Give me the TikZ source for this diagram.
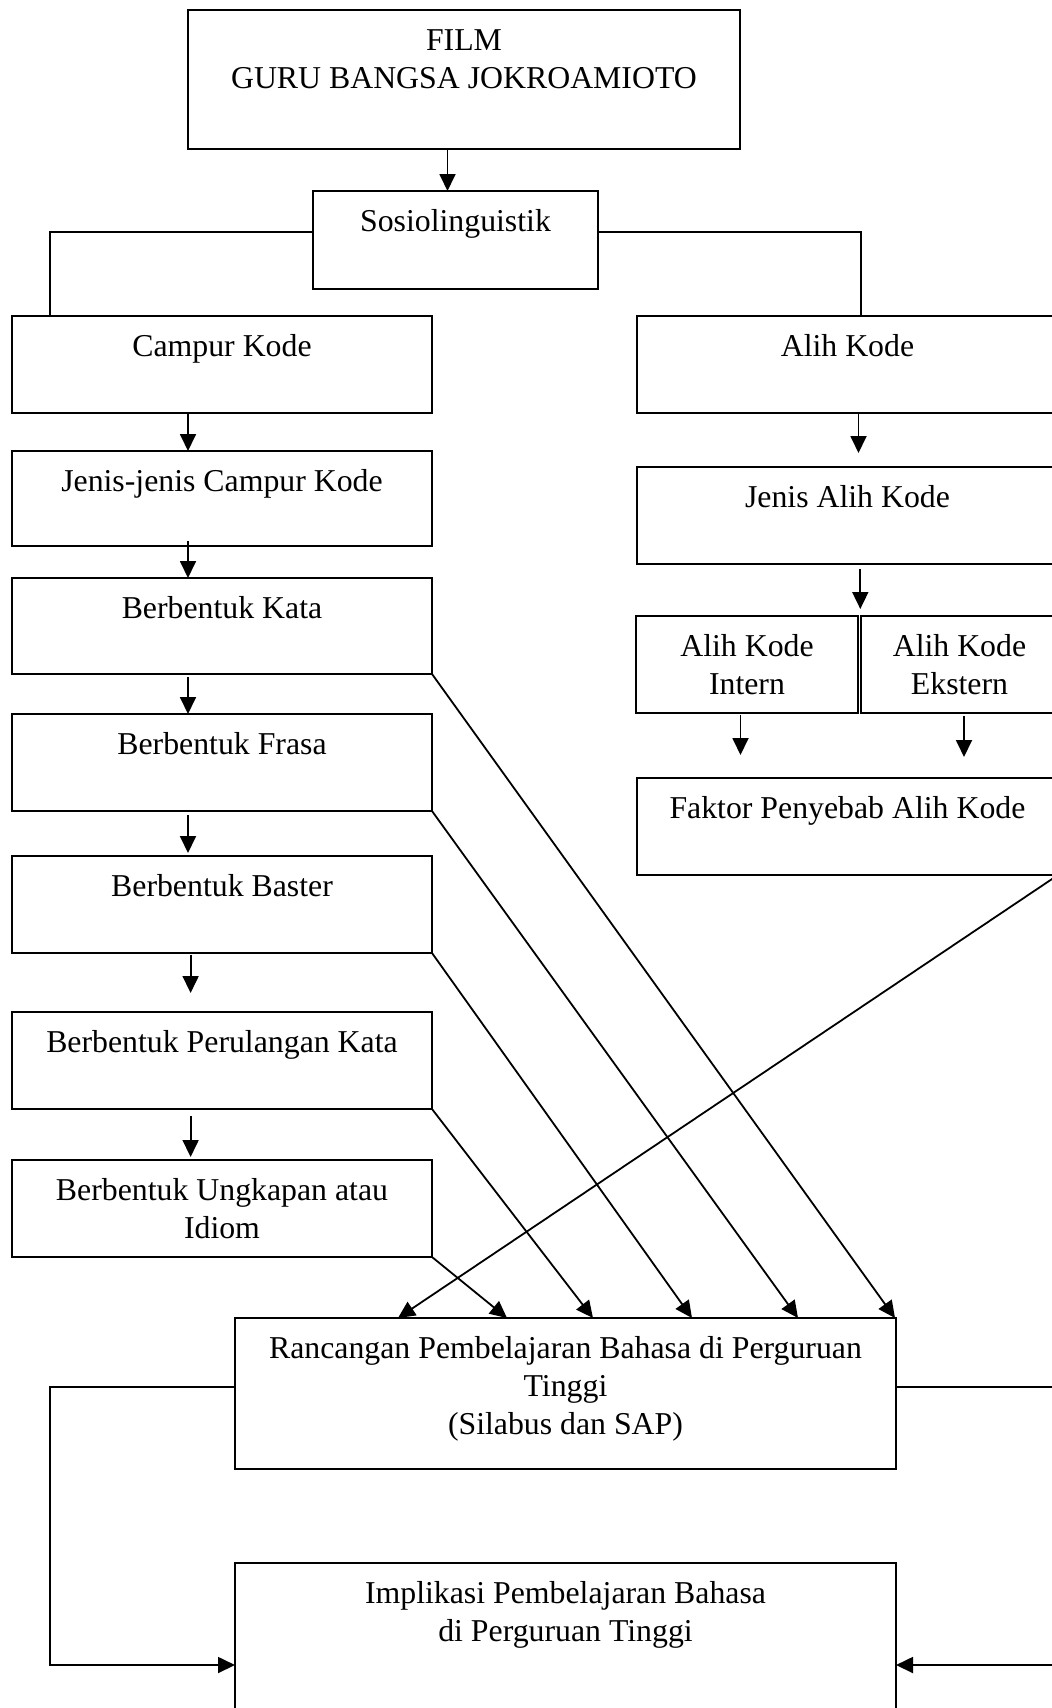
\documentclass[tikz,border=0pt]{standalone}
\usepackage{fontspec}
\setmainfont{Liberation Serif}
\usetikzlibrary{arrows.meta,calc}
\newcommand\bxt[3]{\parbox[c][#2pt][t]{#1pt}{\vspace*{14pt}\centering\strut #3\par}}
\begin{document}
\begin{tikzpicture}[x=1pt,y=-1pt,
 bx/.style={draw,line width=2pt,inner sep=0pt,outer sep=0pt,anchor=north west,font=\fontsize{31.8pt}{38pt}\selectfont},
 arr/.style={line width=1.8pt,-{Triangle[length=17pt,width=16pt]}},
 ln/.style={line width=2pt}]
\useasboundingbox (0,0) rectangle (1052,1708);
\clip (0,0) rectangle (1052,1708);
\fill[white] (0,0) rectangle (1052,1708);

\node[bx] (film) at (188,10) {\bxt{552}{139}{FILM\\GURU BANGSA JOKROAMIOTO}};
\node[bx] (sosio) at (313,191) {\bxt{285}{98}{Sosiolinguistik}};
\node[bx] (campur) at (12,316) {\bxt{420}{97}{Campur Kode}};
\node[bx] (alih) at (637,316) {\bxt{421}{97}{Alih Kode}};
\node[bx] (jcampur) at (12,451) {\bxt{420}{95}{Jenis-jenis Campur Kode}};
\node[bx] (jalih) at (637,467) {\bxt{421}{97}{Jenis Alih Kode}};
\node[bx] (kata) at (12,578) {\bxt{420}{96}{Berbentuk Kata}};
\node[bx] (intern) at (636,616) {\bxt{222}{97}{Alih Kode\\Intern}};
\node[bx] (ekstern) at (861,616) {\bxt{197}{97}{Alih Kode\\Ekstern}};
\node[bx] (frasa) at (12,714) {\bxt{420}{97}{Berbentuk Frasa}};
\node[bx] (faktor) at (637,778) {\bxt{421}{97}{Faktor Penyebab Alih Kode}};
\node[bx] (baster) at (12,856) {\bxt{420}{97}{Berbentuk Baster}};
\node[bx] (ulang) at (12,1012) {\bxt{420}{97}{Berbentuk Perulangan Kata}};
\node[bx] (idiom) at (12,1160) {\bxt{420}{97}{Berbentuk Ungkapan atau\\Idiom}};
\node[bx] (ranc) at (235,1318) {\bxt{661}{151}{Rancangan Pembelajaran Bahasa di Perguruan\\Tinggi\\(Silabus dan SAP)}};
\node[bx] (impl) at (235,1563) {\bxt{661}{204}{Implikasi Pembelajaran Bahasa\\di Perguruan Tinggi}};

% vertical arrows
\draw[arr] ([xshift=-16.5pt]film.south) -- ([xshift=-8pt]sosio.north);
\draw[arr] ([xshift=176pt]campur.south west) -- ([xshift=176pt]jcampur.north west);
\draw[arr] ([xshift=176pt,yshift=5pt]jcampur.south west) -- ([xshift=176pt]kata.north west);
\draw[arr] ([xshift=176pt,yshift=-3pt]kata.south west) -- ([xshift=176pt]frasa.north west);
\draw[arr] ([xshift=176pt,yshift=-4pt]frasa.south west) -- ([xshift=176pt,yshift=3pt]baster.north west);
\draw[arr] ([xshift=178.6pt,yshift=-2pt]baster.south west) -- ([xshift=178.6pt,yshift=19pt]ulang.north west);
\draw[arr] ([xshift=178.6pt,yshift=-7pt]ulang.south west) -- ([xshift=178.6pt,yshift=3pt]idiom.north west);
\draw[arr] ([xshift=221.5pt]alih.south west) -- ([xshift=221.5pt,yshift=14pt]jalih.north west);
\draw[arr] ([xshift=223.3pt,yshift=-5pt]jalih.south west) -- ([xshift=-0.7pt,yshift=7pt]ekstern.north west);
\draw[arr] ([xshift=104.5pt,yshift=-1.5pt]intern.south west) -- ([xshift=103.5pt,yshift=23pt]faktor.north west);
\draw[arr] ([xshift=103pt,yshift=-3pt]ekstern.south west) -- ([xshift=327pt,yshift=21pt]faktor.north west);

% branches from Sosiolinguistik
\draw[ln] ([yshift=8pt]sosio.west) -| ([xshift=38pt]campur.north west);
\draw[ln] ([yshift=8pt]sosio.east) -| ([xshift=224pt]alih.north west);

% diagonals into Rancangan
\draw[arr] (kata.south east) -- ([xshift=-1pt]ranc.north east);
\draw[arr] (frasa.south east) -- ([xshift=563pt]ranc.north west);
\draw[arr] (baster.south east) -- ([xshift=457pt]ranc.north west);
\draw[arr] (ulang.south east) -- ([xshift=358pt]ranc.north west);
\draw[arr] (idiom.south east) -- ([xshift=272pt]ranc.north west);
\draw[arr] (faktor.south east) -- ([xshift=163pt]ranc.north west);

% side loops to Implikasi
\draw[arr] ([yshift=6.5pt]ranc.west) -| ([xshift=-185pt]impl.west) -- (impl.west);
\draw[arr] ([yshift=6.5pt]ranc.east) -| ([xshift=170pt]impl.east) -- (impl.east);
\end{tikzpicture}
\end{document}
